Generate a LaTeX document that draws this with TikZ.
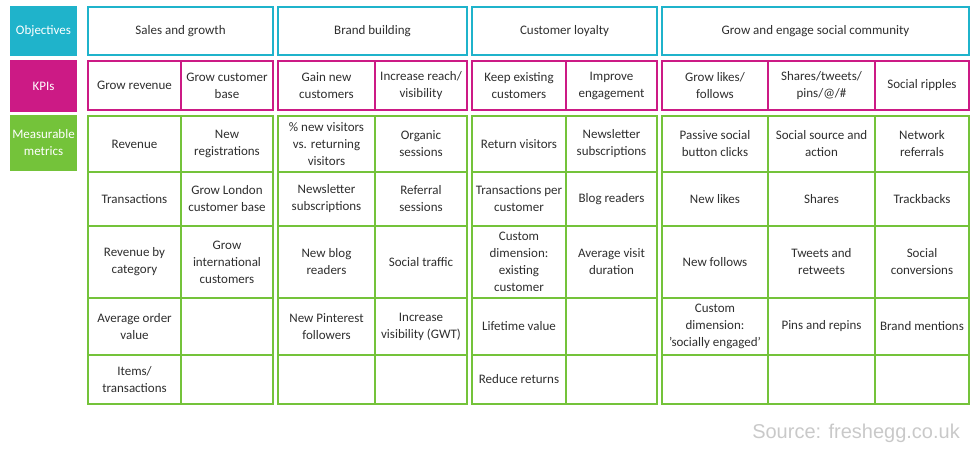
\documentclass[tikz,border=0pt]{standalone}
\usepackage{fontspec}
\setmainfont{Carlito}
\newfontfamily\srcfont{Liberation Sans}
\usepackage{tikz}

\definecolor{objcol}{HTML}{1FB3CB}
\definecolor{kpicol}{HTML}{CC1A85}
\definecolor{metcol}{HTML}{74C33A}
\definecolor{txtcol}{HTML}{2E2E2E}
\definecolor{srccol}{HTML}{C9C9C9}

\tikzset{
  cell/.style={draw, line width=2.5pt, inner sep=0pt, outer sep=0pt, align=center,
    text=txtcol, font=\fontsize{13}{17}\selectfont},
  objcell/.style={cell, draw=objcol},
  kpicell/.style={cell, draw=kpicol},
  metcell/.style={cell, draw=metcol},
  rowlabel/.style={inner sep=0pt, outer sep=0pt, align=center, text=white,
    minimum width=67pt, font=\fontsize{13}{17}\selectfont}
}

\begin{document}
\begin{tikzpicture}[x=1pt,y=-1pt]
\useasboundingbox (0,0) rectangle (974,452);
%Row labels
  \node[rowlabel,fill=objcol,minimum height=50pt] (objLabel) at (43.5,31) {Objectives};
  \node[rowlabel,fill=kpicol,minimum height=52pt] (kpiLabel) at (43.5,86) {KPIs};
  \node[rowlabel,fill=metcol,minimum height=56pt] (metLabel) at (43.5,143) {Measurable\\metrics};

%Sales and growth
  \node[objcell,minimum width=185pt,minimum height=48pt] (objSales) at (180.5,31) {Sales and growth};
  \node[kpicell,minimum width=93pt,minimum height=49pt] (kpiSalesA) at (134.5,85.5) {Grow revenue};
  \node[kpicell,minimum width=92pt,minimum height=49pt] (kpiSalesB) at (227,85.5) {Grow customer\\base};
  \node[metcell,minimum width=93pt,minimum height=56pt] (salesA1) at (134.5,144) {Revenue};
  \node[metcell,minimum width=92pt,minimum height=56pt] (salesB1) at (227,144) {New\\registrations};
  \node[metcell,minimum width=93pt,minimum height=54pt] (salesA2) at (134.5,199) {Transactions};
  \node[metcell,minimum width=92pt,minimum height=54pt] (salesB2) at (227,199) {Grow London\\customer base};
  \node[metcell,minimum width=93pt,minimum height=72pt] (salesA3) at (134.5,262) {Revenue by\\category};
  \node[metcell,minimum width=92pt,minimum height=72pt] (salesB3) at (227,262) {Grow\\international\\customers};
  \node[metcell,minimum width=93pt,minimum height=57pt] (salesA4) at (134.5,326.5) {Average order\\value};
  \node[metcell,minimum width=92pt,minimum height=57pt] (salesB4) at (227,326.5) {};
  \node[metcell,minimum width=93pt,minimum height=49pt] (salesA5) at (134.5,379.5) {Items/\\transactions};
  \node[metcell,minimum width=92pt,minimum height=49pt] (salesB5) at (227,379.5) {};

%Brand building
  \node[objcell,minimum width=189pt,minimum height=48pt] (objBrand) at (372.5,31) {Brand building};
  \node[kpicell,minimum width=97pt,minimum height=49pt] (kpiBrandA) at (326.5,85.5) {Gain new\\customers};
  \node[kpicell,minimum width=92pt,minimum height=49pt] (kpiBrandB) at (421,85.5) {Increase reach/\\visibility};
  \node[metcell,minimum width=97pt,minimum height=56pt] (brandA1) at (326.5,144) {\% new visitors\\vs. returning\\visitors};
  \node[metcell,minimum width=92pt,minimum height=56pt] (brandB1) at (421,144) {Organic\\sessions};
  \node[metcell,minimum width=97pt,minimum height=54pt] (brandA2) at (326.5,199) {Newsletter\\subscriptions};
  \node[metcell,minimum width=92pt,minimum height=54pt] (brandB2) at (421,199) {Referral\\sessions};
  \node[metcell,minimum width=97pt,minimum height=72pt] (brandA3) at (326.5,262) {New blog\\readers};
  \node[metcell,minimum width=92pt,minimum height=72pt] (brandB3) at (421,262) {Social traffic};
  \node[metcell,minimum width=97pt,minimum height=57pt] (brandA4) at (326.5,326.5) {New Pinterest\\followers};
  \node[metcell,minimum width=92pt,minimum height=57pt] (brandB4) at (421,326.5) {Increase\\visibility (GWT)};
  \node[metcell,minimum width=97pt,minimum height=49pt] (brandA5) at (326.5,379.5) {};
  \node[metcell,minimum width=92pt,minimum height=49pt] (brandB5) at (421,379.5) {};

%Customer loyalty
  \node[objcell,minimum width=185pt,minimum height=48pt] (objLoyal) at (564.5,31) {Customer loyalty};
  \node[kpicell,minimum width=94pt,minimum height=49pt] (kpiLoyalA) at (519,85.5) {Keep existing\\customers};
  \node[kpicell,minimum width=91pt,minimum height=49pt] (kpiLoyalB) at (611.5,85.5) {Improve\\engagement};
  \node[metcell,minimum width=94pt,minimum height=56pt] (loyalA1) at (519,144) {Return visitors};
  \node[metcell,minimum width=91pt,minimum height=56pt] (loyalB1) at (611.5,144) {Newsletter\\subscriptions};
  \node[metcell,minimum width=94pt,minimum height=54pt] (loyalA2) at (519,199) {Transactions per\\customer};
  \node[metcell,minimum width=91pt,minimum height=54pt] (loyalB2) at (611.5,199) {Blog readers};
  \node[metcell,minimum width=94pt,minimum height=72pt] (loyalA3) at (519,262) {Custom\\dimension:\\existing\\customer};
  \node[metcell,minimum width=91pt,minimum height=72pt] (loyalB3) at (611.5,262) {Average visit\\duration};
  \node[metcell,minimum width=94pt,minimum height=57pt] (loyalA4) at (519,326.5) {Lifetime value};
  \node[metcell,minimum width=91pt,minimum height=57pt] (loyalB4) at (611.5,326.5) {};
  \node[metcell,minimum width=94pt,minimum height=49pt] (loyalA5) at (519,379.5) {Reduce returns};
  \node[metcell,minimum width=91pt,minimum height=49pt] (loyalB5) at (611.5,379.5) {};

%Grow and engage social community
  \node[objcell,minimum width=307pt,minimum height=48pt] (objSocial) at (815.5,31) {Grow and engage social community};
  \node[kpicell,minimum width=106pt,minimum height=49pt] (kpiSocialA) at (715,85.5) {Grow likes/\\follows};
  \node[kpicell,minimum width=107pt,minimum height=49pt] (kpiSocialB) at (821.5,85.5) {Shares/tweets/\\pins/@/\#};
  \node[kpicell,minimum width=94pt,minimum height=49pt] (kpiSocialC) at (922,85.5) {Social ripples};
  \node[metcell,minimum width=106pt,minimum height=56pt] (socialA1) at (715,144) {Passive social\\button clicks};
  \node[metcell,minimum width=107pt,minimum height=56pt] (socialB1) at (821.5,144) {Social source and\\action};
  \node[metcell,minimum width=94pt,minimum height=56pt] (socialC1) at (922,144) {Network\\referrals};
  \node[metcell,minimum width=106pt,minimum height=54pt] (socialA2) at (715,199) {New likes};
  \node[metcell,minimum width=107pt,minimum height=54pt] (socialB2) at (821.5,199) {Shares};
  \node[metcell,minimum width=94pt,minimum height=54pt] (socialC2) at (922,199) {Trackbacks};
  \node[metcell,minimum width=106pt,minimum height=72pt] (socialA3) at (715,262) {New follows};
  \node[metcell,minimum width=107pt,minimum height=72pt] (socialB3) at (821.5,262) {Tweets and\\retweets};
  \node[metcell,minimum width=94pt,minimum height=72pt] (socialC3) at (922,262) {Social\\conversions};
  \node[metcell,minimum width=106pt,minimum height=57pt] (socialA4) at (715,326.5) {Custom\\dimension:\\'socially engaged'};
  \node[metcell,minimum width=107pt,minimum height=57pt] (socialB4) at (821.5,326.5) {Pins and repins};
  \node[metcell,minimum width=94pt,minimum height=57pt] (socialC4) at (922,326.5) {Brand mentions};
  \node[metcell,minimum width=106pt,minimum height=49pt] (socialA5) at (715,379.5) {};
  \node[metcell,minimum width=107pt,minimum height=49pt] (socialB5) at (821.5,379.5) {};
  \node[metcell,minimum width=94pt,minimum height=49pt] (socialC5) at (922,379.5) {};

%Source
  \node[anchor=east,inner sep=0pt,text=srccol,font=\srcfont\fontsize{20}{23}\selectfont] (source) at (960,433) {Source: freshegg.co.uk};
\end{tikzpicture}
\end{document}
